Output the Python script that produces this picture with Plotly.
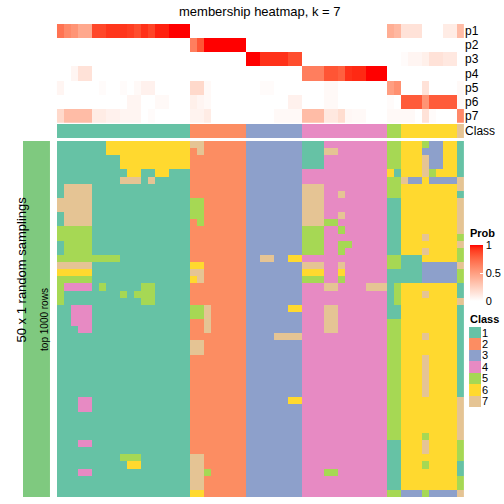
import plotly.graph_objects as go

# ---------------- data ----------------
class_labels = ["1", "2", "3", "4", "5", "6", "7"]
class_colors = ["#66C2A5", "#FC8D62", "#8DA0CB", "#E78AC3", "#A6D854", "#FFD92F", "#E5C494"]
prob_rows = ["p1", "p2", "p3", "p4", "p5", "p6", "p7"]

# class of each of the 58 columns
column_class = "1111111111111111111" + "22222222" + "33333333" + "444444444444" + "55" + "66666666" + "7"

# membership probabilities per column (58 values each)
p1 = [0.70, 0.60, 0.55, 0.45, 0.45, 0.87, 0.87, 0.92, 0.92, 0.92, 0.90, 0.85, 0.93, 0.88, 0.96, 0.96, 1.00, 1.00, 1.00,
      0, 0, 0, 0, 0, 0, 0, 0,
      0, 0, 0, 0, 0, 0, 0, 0,
      0, 0, 0, 0, 0, 0, 0, 0, 0, 0, 0, 0,
      0.42, 0.37,
      0.15, 0.15, 0.15, 0, 0, 0, 0.10, 0.10,
      0.35]
p2 = [0, 0, 0, 0, 0, 0, 0, 0, 0, 0, 0, 0, 0, 0, 0, 0, 0, 0, 0,
      0.65, 0.82, 1.00, 1.00, 1.00, 1.00, 1.00, 1.00,
      0, 0, 0, 0, 0, 0, 0, 0,
      0, 0, 0, 0, 0, 0, 0, 0, 0, 0, 0, 0,
      0, 0,
      0, 0, 0, 0, 0, 0, 0, 0,
      0]
p3 = [0, 0, 0, 0, 0, 0, 0, 0, 0, 0, 0, 0, 0, 0, 0, 0, 0, 0, 0,
      0, 0, 0, 0, 0, 0, 0, 0,
      1.00, 1.00, 0.93, 0.93, 0.93, 0.93, 0.85, 0.85,
      0, 0, 0, 0, 0, 0, 0, 0, 0, 0, 0, 0,
      0, 0,
      0.02, 0.05, 0.05, 0.08, 0.15, 0.15, 0.12, 0.12,
      0]
p4 = [0, 0, 0.05, 0.15, 0.15, 0, 0, 0, 0, 0, 0, 0, 0, 0, 0, 0, 0, 0, 0,
      0, 0, 0, 0, 0, 0, 0, 0,
      0, 0, 0, 0, 0, 0, 0, 0,
      0.65, 0.65, 0.65, 0.82, 0.82, 0.78, 0.93, 0.95, 0.95, 1.00, 1.00, 1.00,
      0, 0,
      0, 0, 0, 0, 0, 0, 0, 0,
      0]
p5 = [0.05, 0, 0, 0, 0, 0, 0.02, 0, 0, 0.02, 0, 0.03, 0.07, 0.07, 0, 0, 0, 0, 0,
      0.20, 0.20, 0.03, 0, 0, 0, 0, 0,
      0, 0, 0.02, 0.02, 0, 0, 0, 0,
      0, 0, 0, 0.03, 0.03, 0, 0, 0, 0, 0, 0, 0,
      0.50, 0.57,
      0, 0, 0, 0.15, 0, 0, 0, 0,
      0.03]
p6 = [0, 0, 0, 0, 0, 0, 0, 0, 0, 0, 0.05, 0.05, 0, 0, 0.03, 0.03, 0, 0, 0,
      0.08, 0.05, 0.03, 0, 0, 0, 0, 0,
      0, 0, 0, 0, 0, 0, 0.07, 0.07,
      0, 0, 0, 0.03, 0.03, 0, 0, 0, 0, 0, 0, 0,
      0.02, 0,
      0.80, 0.80, 0.80, 0.55, 0.80, 0.80, 0.80, 0.80,
      0.03]
p7 = [0.20, 0.35, 0.35, 0.35, 0.35, 0.10, 0.10, 0.07, 0.07, 0.05, 0.05, 0.05, 0, 0.02, 0, 0, 0, 0, 0,
      0.06, 0.06, 0.10, 0, 0, 0, 0, 0,
      0, 0, 0, 0, 0.03, 0.03, 0.03, 0.03,
      0.35, 0.35, 0.35, 0.12, 0.12, 0.18, 0.04, 0.03, 0.03, 0, 0, 0,
      0.03, 0.03,
      0.03, 0.03, 0, 0.15, 0.02, 0, 0, 0,
      0.60]

# 50 random samplings x 58 columns: class assigned in each sampling
samplings = [
    "1111111666666666666" + "77222222" + "33333333" + "111444444444" + "55666533661",
    "1111111666666666666" + "27222222" + "33333333" + "111774444444" + "55666333661",
    "1111111116666666666" + "22222222" + "33333333" + "111444444444" + "55666733661",
    "1111111116666666666" + "22222222" + "33333333" + "111444444444" + "55666733661",
    "1111111111661166111" + "22222222" + "33333333" + "444444444444" + "61666756661",
    "1111111117771711111" + "22222222" + "33333333" + "444444444444" + "55733633337",
    "1777711111111111111" + "22222222" + "33333333" + "777444444444" + "55666666667",
    "1777711111111111111" + "22222222" + "33333333" + "777447444444" + "55666666661",
    "7777711111111111111" + "55222222" + "33333333" + "777444444444" + "11666666667",
    "7777711111111111111" + "55222222" + "33333333" + "777444444444" + "11666666667",
    "1777711111111111111" + "55222222" + "33333333" + "777447444444" + "11666666667",
    "1777711111111111111" + "25222222" + "33333333" + "777554444444" + "11666666667",
    "5555511111111111111" + "22222222" + "33333333" + "555445444444" + "11666666667",
    "5555511111111111111" + "22222222" + "33333333" + "555444444444" + "11666766665",
    "1555511111111111111" + "22222222" + "33333333" + "555445544444" + "11666666667",
    "1555511111111111111" + "22222222" + "33333333" + "555445444444" + "11666766665",
    "5555555551111111111" + "22222222" + "33773366" + "444444444444" + "55111666665",
    "7777711111111111111" + "66222222" + "33333333" + "777447444444" + "55111333337",
    "6666611111111111111" + "77222222" + "33333333" + "666446444444" + "11111333335",
    "5555511111111111111" + "67222222" + "33333333" + "555445444444" + "11111333335",
    "5444415111115511111" + "22222222" + "33333333" + "444774444777" + "15666666661",
    "5111111115155511111" + "22222222" + "33333333" + "444444444444" + "15666766661",
    "5111111111115511111" + "22222222" + "33333333" + "444444444444" + "15666666667",
    "1144411111111111111" + "55722222" + "33333366" + "444774444444" + "11666666661",
    "1144411111111111111" + "55722222" + "33333333" + "444774444444" + "11666666661",
    "1144411111111111111" + "22722222" + "33333333" + "444774444444" + "55666666661",
    "1114411111111111111" + "22722222" + "33333333" + "444774444444" + "55666666661",
    "1111111111111111111" + "22222222" + "33337777" + "444444444444" + "55666766661",
    "1111111111111111111" + "77222222" + "33333333" + "444444444444" + "55666666661",
    "1111111111111111111" + "77222222" + "33333333" + "444444444444" + "55666666661",
    "1111111111111111111" + "22222222" + "33333333" + "444444444444" + "55666766661",
    "1111111111111111111" + "22222222" + "33333333" + "444444444444" + "55666766661",
    "1111111111111111111" + "22222222" + "33333333" + "444444444444" + "55666766661",
    "1111111111111111111" + "22222222" + "33333333" + "444444444444" + "55666766661",
    "1111111111111111111" + "22222222" + "33333333" + "444444444444" + "55666766661",
    "1111111111111111111" + "22222222" + "33333333" + "444444444444" + "55666766661",
    "1114411111111111111" + "22222222" + "33333366" + "444444444444" + "55666666667",
    "1114411111111111111" + "22222222" + "33333333" + "444444444444" + "55666666667",
    "1111111111111111111" + "22222222" + "33333333" + "444444444444" + "55666666667",
    "1111111111111111111" + "22222222" + "33333333" + "444444444444" + "55666666667",
    "1111111111111111111" + "22222222" + "33333333" + "444444444444" + "55666666667",
    "1111111111111111111" + "22222222" + "33333333" + "444444444444" + "55666566667",
    "1114411111111111111" + "22222222" + "33333333" + "444444444444" + "11666766665",
    "1111111111111111111" + "22222222" + "33333333" + "444444444444" + "11666766665",
    "1111111115551111111" + "77222222" + "33333333" + "444444444444" + "11666666665",
    "1111111111661111111" + "77222222" + "33333333" + "444444444444" + "11666566661",
    "1114411111111111111" + "77522222" + "33333333" + "444554444444" + "11666666661",
    "1111111111111111111" + "77222222" + "33333333" + "444444444444" + "11666666665",
    "1111111111111111111" + "77222222" + "33333333" + "444444444444" + "11666666665",
    "1111111111111111111" + "66222222" + "33333333" + "444444444444" + "55333533337",
]

title_text = "membership heatmap, k = 7"
row_title = "50 x 1 random samplings"
slice_title = "top 1000 rows"

# ---------------- styling helpers ----------------
W = H = 504
FONT = "Liberation Sans"


def fx(v):
    return v / W


def fy(v):
    return 1 - v / H


def srgb_to_lab(rgb):
    def lin(c):
        c = c / 255
        return c / 12.92 if c <= 0.04045 else ((c + 0.055) / 1.055) ** 2.4
    r, g, b = [lin(c) for c in rgb]
    X = (0.4124 * r + 0.3576 * g + 0.1805 * b) / 0.95047
    Y = (0.2126 * r + 0.7152 * g + 0.0722 * b)
    Z = (0.0193 * r + 0.1192 * g + 0.9505 * b) / 1.08883

    def f(t):
        return t ** (1 / 3) if t > 0.008856 else 7.787 * t + 16 / 116
    return (116 * f(Y) - 16, 500 * (f(X) - f(Y)), 200 * (f(Y) - f(Z)))


def lab_to_srgb(lab):
    L, a, bb = lab
    fY = (L + 16) / 116
    fX = fY + a / 500
    fZ = fY - bb / 200

    def finv(t):
        return t ** 3 if t ** 3 > 0.008856 else (t - 16 / 116) / 7.787
    X, Y, Z = finv(fX) * 0.95047, finv(fY), finv(fZ) * 1.08883
    r = 3.2406 * X - 1.5372 * Y - 0.4986 * Z
    g = -0.9689 * X + 1.8758 * Y + 0.0415 * Z
    b = 0.0557 * X - 0.2040 * Y + 1.0570 * Z

    def gam(c):
        c = min(max(c, 0), 1)
        c = 12.92 * c if c <= 0.0031308 else 1.055 * c ** (1 / 2.4) - 0.055
        return int(round(c * 255))
    return "rgb(%d,%d,%d)" % (gam(r), gam(g), gam(b))


lab_w = srgb_to_lab((255, 255, 255))
lab_r = srgb_to_lab((255, 0, 0))
prob_cs = []
for i in range(21):
    t = i / 20
    prob_cs.append([t, lab_to_srgb(tuple(lab_w[k] + (lab_r[k] - lab_w[k]) * t for k in range(3)))])

class_cs = []
for i, c in enumerate(class_colors):
    class_cs.append([i / 7, c])
    class_cs.append([(i + 1) / 7, c])

ncol = len(column_class)
cols = list(range(ncol))

# geometry (pixels)
X0, X1 = 57, 465
PROB_T, PROB_B = 24, 122.7
CLS_T, CLS_B = 124, 138
MAIN_T, MAIN_B = 141, 497

fig = go.Figure()

# main sampling heatmap
fig.add_trace(go.Heatmap(
    z=[[int(ch) for ch in row] for row in samplings], x=cols, y=list(range(len(samplings))),
    colorscale=class_cs, zmin=0.5, zmax=7.5, showscale=False, hoverinfo="skip",
    xaxis="x", yaxis="y"))

# class annotation row
fig.add_trace(go.Heatmap(
    z=[[int(ch) for ch in column_class]], x=cols, y=[0],
    colorscale=class_cs, zmin=0.5, zmax=7.5, showscale=False, hoverinfo="skip",
    xaxis="x", yaxis="y2"))

# probability rows
fig.add_trace(go.Heatmap(
    z=[p1, p2, p3, p4, p5, p6, p7], x=cols, y=list(range(7)),
    colorscale=prob_cs, zmin=0, zmax=1, hoverinfo="skip",
    xaxis="x", yaxis="y3",
    colorbar=dict(x=fx(470), xanchor="left", y=fy(245), yanchor="top",
                  lenmode="pixels", len=56, thicknessmode="pixels", thickness=13,
                  xpad=0, ypad=0, outlinewidth=0,
                  tickvals=[0, 0.5, 1], ticktext=["0", "0.5", "1"],
                  ticks="inside", ticklen=3, tickcolor="white",
                  tickfont=dict(size=11, family=FONT, color="black"))))

# left slice bar
fig.add_trace(go.Heatmap(
    z=[[0]], colorscale=[[0, "#7FC97F"], [1, "#7FC97F"]], showscale=False, hoverinfo="skip",
    xaxis="x4", yaxis="y4"))

# class legend swatches
fig.add_trace(go.Heatmap(
    z=[[i + 1] for i in range(7)], y=list(range(7)), x=[0],
    colorscale=class_cs, zmin=0.5, zmax=7.5, showscale=False, hoverinfo="skip",
    xaxis="x5", yaxis="y5"))

hidden = dict(showgrid=False, zeroline=False, showticklabels=False, ticks="", showline=False)

fig.update_layout(
    width=W, height=H, margin=dict(l=0, r=0, t=0, b=0),
    paper_bgcolor="white", plot_bgcolor="white",
    font=dict(family=FONT, color="black"),
    xaxis=dict(domain=[fx(X0), fx(X1)], range=[-0.5, ncol - 0.5], **hidden),
    yaxis=dict(domain=[fy(MAIN_B), fy(MAIN_T)], range=[len(samplings) - 0.5, -0.5], anchor="x", **hidden),
    yaxis2=dict(domain=[fy(CLS_B), fy(CLS_T)], range=[0.5, -0.5], anchor="x",
                showgrid=False, zeroline=False, ticks="", side="right",
                tickvals=[0], ticktext=["Class"], tickfont=dict(size=12, family=FONT)),
    yaxis3=dict(domain=[fy(PROB_B), fy(PROB_T)], range=[6.5, -0.5], anchor="x",
                showgrid=False, zeroline=False, ticks="", side="right",
                tickvals=list(range(7)), ticktext=prob_rows, tickfont=dict(size=12, family=FONT)),
    xaxis4=dict(domain=[fx(23), fx(50)], range=[-0.5, 0.5], anchor="y4", **hidden),
    yaxis4=dict(domain=[fy(MAIN_B), fy(MAIN_T)], range=[-0.5, 0.5], anchor="x4", **hidden),
    xaxis5=dict(domain=[fx(470), fx(482)], range=[-0.5, 0.5], anchor="y5", **hidden),
    yaxis5=dict(domain=[fy(407), fy(327)], range=[6.5, -0.5], anchor="x5",
                showgrid=False, zeroline=False, ticks="", side="right",
                tickvals=list(range(7)), ticktext=class_labels, tickfont=dict(size=11, family=FONT)),
    annotations=[
        dict(text=title_text, x=fx((X0 + X1) / 2), y=fy(11), xref="paper", yref="paper",
             yanchor="middle", showarrow=False, font=dict(size=13, family=FONT)),
        dict(text=row_title, x=fx(12), y=fy(269), xref="paper", yref="paper", textangle=-90,
             showarrow=False, font=dict(size=13, family=FONT)),
        dict(text=slice_title, x=fx(36.5), y=fy((MAIN_T + MAIN_B) / 2), xref="paper", yref="paper",
             textangle=-90, showarrow=False, font=dict(size=10, family=FONT)),
        dict(text="<b>Prob</b>", x=fx(469), y=fy(233), xref="paper", yref="paper",
             xanchor="left", yanchor="middle", showarrow=False, font=dict(size=11, family=FONT)),
        dict(text="<b>Class</b>", x=fx(469), y=fy(319), xref="paper", yref="paper",
             xanchor="left", yanchor="middle", showarrow=False, font=dict(size=11, family=FONT)),
    ],
)

fig.write_html("out.html", config={"displayModeBar": False},
               post_script="document.body.style.margin='0px';document.body.style.overflow='hidden';")
